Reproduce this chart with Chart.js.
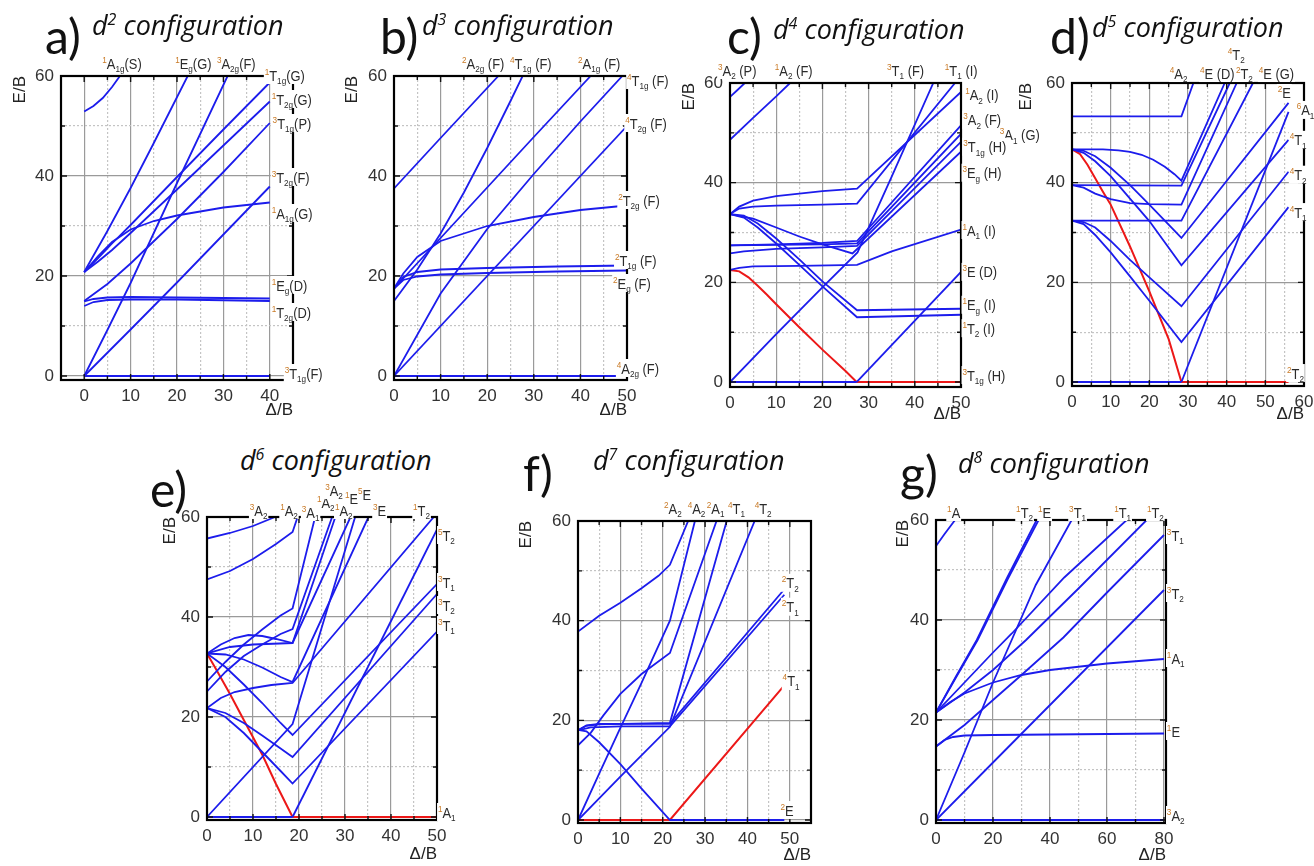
<!DOCTYPE html>
<html><head><meta charset="utf-8">
<script src="https://cdn.jsdelivr.net/npm/chart.js@4.4.1/dist/chart.umd.min.js"></script>
<style>
html,body{margin:0;padding:0;background:#fff}
body{width:1314px;height:866px;position:relative;overflow:hidden;font-family:"Liberation Sans",Arial,sans-serif}
canvas{position:absolute}
.ttl{position:absolute;white-space:nowrap;color:#111;line-height:1}
.let{font-size:48px;font-family:Lato,"Open Sans",sans-serif}
.cfg{font-size:27px;font-style:italic;font-family:"Open Sans",sans-serif}
.cfg sup{font-size:16px;vertical-align:10px;line-height:0}
</style>
</head><body>
<script>
// ================= DATA =================
// d2 (panel a)
const d2Blue = [
 [[0,0],[40,0]],
 [[0,52.9],[2,54],[4,55.6],[6,57.8],[7.7,60]],
 [[0,20.8],[5,29],[10,37.6],[15,46.6],[22.3,60]],
 [[0,0],[5,9.2],[10,18.6],[20,38.6],[30.9,60]],
 [[0,0],[10,9.3],[20,18.7],[30,28.3],[40,37.9]],
 [[0,20.8],[3,23.6],[6,26.5],[10,30.2],[20,39.8],[30,49.3],[40,58.7]],
 [[0,20.8],[3,22.9],[6,25.2],[10,28.6],[20,37.3],[30,46.1],[40,54.9]],
 [[0,15],[5,18.4],[10,22.5],[20,31.4],[30,40.8],[40,50.6]],
 [[0,20.8],[3,24],[6,26.8],[10,29.3],[15,31],[20,32.1],[30,33.7],[40,34.7]],
 [[0,14],[2,14.8],[5,15.2],[10,15.3],[20,15.3],[40,15.0]],
 [[0,14.9],[2,15.4],[5,15.7],[10,15.8],[20,15.7],[40,15.5]]
];
const d2Red = [];
const d2Labels = [
 ["^1A_1g(S)",3.9,62.6],["^1E_g(G)",19.6,62.6],["^3A_2g(F)",28.6,62.6],
 ["^1T_1g(G)",38.9,60.2],["^1T_2g(G)",40.4,55.4],["^3T_1g(P)",40.6,50.6],["^3T_2g(F)",40.4,39.8],
 ["^1A_1g(G)",40.4,32.6],["^1E_g(D)",40.4,18.2],["^1T_2g(D)",40.4,12.8],["^3T_1g(F)",43.2,0.6]
];
// d3 (panel b)
const d3Blue = [
 [[0,0],[50,0]],
 [[0,0],[50,50]],
 [[0,0],[10,16.5],[20,29.4],[30,40.4],[40,50.9],[49,60]],
 [[0,15],[5,21.3],[10,28.5],[15,36.7],[20,45.6],[25,55],[27.6,60]],
 [[0,37.5],[10,47.6],[22.4,60]],
 [[0,17.5],[10,27.6],[20,37.7],[30,47.8],[42.2,60]],
 [[0,17.5],[2,19.2],[5,19.9],[10,20.3],[20,20.6],[35,20.9],[50,21.1]],
 [[0,17.5],[2,19.8],[5,20.8],[10,21.3],[20,21.6],[35,21.9],[50,22.1]],
 [[0,17.5],[2,20.5],[5,23.8],[10,27],[20,30],[30,31.8],[40,33.2],[50,34.1]]
];
const d3Red = [];
const d3Labels = [
 ["^2A_2g (F)",14.6,62.6],["^4T_1g (F)",24.9,62.6],["^2A_1g (F)",39.5,62.6],
 ["^4T_1g (F)",50,59.2],["^4T_2g (F)",49.6,50.6],["^2T_2g (F)",48.1,35.2],
 ["^2T_1g (F)",47.4,23.2],["^2E_g (F)",47,18.6],["^4A_2g (F)",47.8,1.6]
];
// d4 (panel c)
const d4Blue = [
 [[0,0],[27.4,0]],
 [[27.4,0],[50,22.1]],
 [[0,0],[10,9.6],[20,19],[27.6,26],[35,41.2],[44,60]],
 [[0,57.2],[1.5,58.5],[3.2,60]],
 [[0,48.6],[5,53],[10,57.3],[13,60]],
 [[0,33.7],[2,35.2],[5,36.4],[10,37.3],[20,38.3],[27.5,38.8],[50,58.2]],
 [[0,33.7],[2,34.8],[5,35.2],[10,35.4],[20,35.6],[27.5,35.8],[48.7,60]],
 [[0,33.7],[3,33.4],[6,31.8],[10,28.8],[15,24.6],[20,20.2],[27.5,14.4],[50,14.7]],
 [[0,33.7],[3,33],[6,31],[10,27.8],[15,23.5],[20,19.2],[27.5,13.0],[50,13.5]],
 [[0,33.7],[5,32.8],[10,31],[15,29.2],[20,27.6],[26.5,25.8],[50,46.2]],
 [[0,27.4],[10,27.6],[20,27.9],[27.5,28.3],[50,51.5]],
 [[0,27.4],[10,27.5],[20,27.6],[27.5,27.8],[50,49.8]],
 [[0,25.8],[3,26.2],[10,26.7],[20,27],[27.5,27.3],[50,48.2]],
 [[0,22.5],[2,22.9],[5,23.2],[15,23.3],[27.5,23.5],[35,26.2],[50,30.6]]
];
const d4Red = [
 [[0,22.5],[2,22.2],[4,21],[6,19.3],[8,17.5],[10,15.6],[15,11],[20,6.5],[25,2.2],[27.4,0],[50,0]]
];
const d4Labels = [
 ["^3A_2 (P)",-2.6,62.6],["^1A_2 (F)",9.7,62.6],["^3T_1 (F)",34,62.6],["^1T_1 (I)",46.5,62.6],
 ["^1A_2 (I)",50.9,57.6],["^3A_2 (F)",50.5,52.6],["^3A_1 (G)",58.4,49.6],["^3T_1g (H)",50.5,47.2],
 ["^3E_g (H)",50.3,42],["^1A_1 (I)",50.3,30.5],["^3E (D)",50.3,22.1],["^1E_g (I)",50.3,15.5],
 ["^1T_2 (I)",50.3,10.8],["^3T_1g (H)",50.3,1.4]
];
// d5 (panel d)
const d5Blue = [
 [[0,0],[28.3,0]],
 [[28.3,0],[56,54.2]],
 [[0,53.3],[28.3,53.3],[31.4,60]],
 [[0,46.7],[8,46.7],[12,46.5],[15,46.2],[18,45.6],[21,44.6],[24,43.2],[26.5,41.7],[28.3,40.4],[39.5,60]],
 [[0,46.7],[3,46.4],[6,45.3],[10,43],[15,39.5],[20,35.6],[28.3,28.9],[56,56]],
 [[0,46.7],[3,46],[6,44.3],[10,41.3],[15,36.8],[20,32.3],[28.3,23.4],[56,48.6]],
 [[0,39.5],[28.3,39.4],[40.8,60]],
 [[0,39.5],[3,39],[6,37.8],[10,36.7],[15,35.9],[20,35.7],[28.3,35.6],[42.6,60]],
 [[0,32.4],[28.3,32.4],[46.8,60]],
 [[0,32.4],[3,32.1],[6,31],[10,28.3],[15,24.5],[20,21],[28.3,15.2],[56,42.2]],
 [[0,32.4],[3,31.7],[6,29.5],[10,26],[15,21.2],[20,16.3],[28.3,8],[56,35.1]]
];
const d5Red = [
 [[0,46.7],[2,45.8],[4,43.6],[6,40.9],[8,38.2],[10,35.6],[15,27.2],[20,18.2],[25,8.6],[28.3,0],[56,0]]
];
const d5Labels = [
 ["^4A_2",25.3,62],["^4E (D)",33.1,62],["^4T_2",40.3,65.8],["^2T_2",42.4,62],["^4E (G)",48.3,62],
 ["^2E",53.2,58],["^6A_1",58.1,54.6],["^4T_1",56.3,48.6],["^4T_2",56.3,41.6],["^4T_1",56.3,34.1],
 ["^2T_2",55.6,1.8]
];
// d6 (panel e)
const d6Blue = [
 [[0,55.7],[5,56.8],[10,58.2],[14.8,60]],
 [[0,47.5],[5,49.2],[10,51.6],[15,54.6],[18.6,57],[19.7,60]],
 [[0,27.1],[4,31],[8,34.5],[12,37.5],[16,40.3],[18.6,41.7],[23.5,60]],
 [[0,25.1],[4,29],[8,32.2],[12,34.5],[16,36.6],[18.6,37.6],[27.2,60]],
 [[0,32.7],[3,34.5],[6,35.8],[9,36.4],[12,36.2],[15,35.6],[18.6,34.8],[27.9,60]],
 [[0,32.7],[5,34],[10,34.5],[18.6,34.8],[31.2,60]],
 [[0,32.7],[4,32.5],[8,31.5],[12,29.9],[16,28],[18.6,27],[35.1,60]],
 [[0,0],[18.6,18.6],[32.2,60]],
 [[0,32.7],[4,30],[8,26.5],[12,22.8],[16,18.8],[18.6,16.4],[50,46.6]],
 [[0,21.8],[4,20.8],[8,18.8],[12,16.3],[16,13.7],[18.6,12],[50,44.6]],
 [[0,21.8],[4,20],[8,16.8],[12,13],[16,9.2],[18.6,6.7],[50,37.1]],
 [[0,21.8],[3,23.8],[6,25],[10,25.8],[14,26.4],[18.6,26.8],[49.3,60]],
 [[0,0],[18.6,0]],
 [[18.6,0],[50,57.5]]
];
const d6Red = [
 [[0,32.7],[2,29.5],[5,24.6],[8,19.4],[12,12.5],[15,6.6],[18.6,0],[50,0]]
];
const d6Labels = [
 ["^3A_2",9.3,61.4],["^1A_2",15.9,61.4],["^3A_1",20.6,61],["^1A_2",23.9,63],["^3A_2",25.7,65.4],
 ["^1A_2",27.8,61.4],["^1E",30,63.8],["^5E",32.8,64.6],["^3E",36.1,61.4],["^1T_2",44.8,61.4],
 ["^5T_2",50.2,56.4],["^3T_1",50.2,47],["^3T_2",50.2,42.4],["^3T_1",50.2,38.4],["^1A_1",50.2,1]
];
// d7 (panel f)
const d7Blue = [
 [[0,37.8],[5,41],[10,43.6],[15,46.5],[19,49],[21.7,51.2],[26,60]],
 [[0,0],[5,9.3],[10,18.5],[15,27.5],[21.7,40],[27.6,60]],
 [[0,15],[3,17.5],[6,21],[10,25.3],[15,29.3],[21.7,33.5],[32.7,60]],
 [[0,18],[2,18.9],[5,19.2],[21.7,19.5],[35.1,60]],
 [[0,18],[2,19],[5,19.3],[21.7,19.3],[48.7,46.3]],
 [[0,18],[3,18.6],[10,18.8],[21.7,18.8],[48.7,45.2]],
 [[0,0],[10,8.7],[21.7,18.7],[41.7,60]],
 [[0,18.1],[2,17.8],[5,15.6],[10,11.2],[15,6.3],[21.7,0],[48.7,0]]
];
const d7Red = [
 [[0,0],[21.7,0],[48.7,27]]
];
const d7Labels = [
 ["^2A_2",20.3,62.6],["^4A_2",25.9,62.6],["^2A_1",30.4,62.6],["^4T_1",35.4,62.6],["^4T_2",41.7,62.6],
 ["^2T_2",48.1,47.6],["^2T_1",48.1,42.8],["^4T_1",48.3,27.9],["^2E",47.8,2]
];
// d8 (panel g)
const d8Blue = [
 [[0,0],[80,0]],
 [[0,0],[20,11.5],[40,23],[60,34.5],[80,46]],
 [[0,0],[10,13.5],[20,27.5],[25.4,34.5],[35,47],[47.6,60]],
 [[0,14.7],[10,19],[20,24],[30,29],[44.7,36.5],[60,45.5],[80,57]],
 [[0,21.5],[10,25.5],[20,30],[31.6,36],[50,46.3],[73.9,60]],
 [[0,21.5],[10,27.5],[20,33.5],[26.6,37.3],[45,48.5],[66.9,60]],
 [[0,21.5],[7,28.7],[14.3,36],[25,48.5],[35.3,60]],
 [[0,21.5],[7,28.5],[14.6,36],[25,48],[36,60]],
 [[0,21.5],[5,23.6],[10,25.3],[20,27.5],[30,29],[40,30],[60,31.3],[80,32.2]],
 [[0,14.7],[3,16],[6,16.6],[10,16.9],[20,17],[40,17.1],[60,17.2],[80,17.3]],
 [[0,54.8],[3,57.2],[6.7,60]]
];
const d8Red = [];
const d8Labels = [
 ["^1A",3.9,61.6],["^1T_2",28.1,61.6],["^1E",35.8,61.6],["^3T_1",46.7,61.6],["^1T_1",62.5,61.6],["^1T_2",74,61.6],
 ["^3T_1",81,57],["^3T_2",81,45.4],["^1A_1",81,32.4],["^1E",81,17.8],["^3A_2",81,1]
];
// tick values
const xTicksA = [-5,0,5,10,15,20,25,30,35,40,45];
const xTicks50 = [0,5,10,15,20,25,30,35,40,45,50];
const xTicks55 = [0,5,10,15,20,25,30,35,40,45,50,55];
const xTicks60 = [0,5,10,15,20,25,30,35,40,45,50,55,60];
const xTicks80 = [0,10,20,30,40,50,60,70,80];
const yTicks = [0,10,20,30,40,50,60];

// ================= LAYOUT / STYLE =================
const BLUE = 'rgb(28,28,236)', RED = 'rgb(236,24,24)';
const TXT = '#2b2b2b', SUPC = '#c97a26';
const panels = [
 {cv:[10,40,320,381],  area:[61,76,293,380],   x:[-5,45],  y:[-0.8,60], xt:xTicksA, xMaj:10, blue:d2Blue, red:d2Red, labels:d2Labels},
 {cv:[342,40,338,381], area:[394,76,627,380],  x:[0,50],   y:[-0.8,60], xt:xTicks50, xMaj:10, blue:d3Blue, red:d3Red, labels:d3Labels},
 {cv:[679,40,366,385], area:[730,83,961,387],  x:[0,50],   y:[-1,60],   xt:xTicks50, xMaj:10, blue:d4Blue, red:d4Red, labels:d4Labels},
 {cv:[1016,40,298,385],area:[1072,83,1304,386],x:[0,60],   y:[-0.8,60], xt:xTicks60, xMaj:10, blue:d5Blue, red:d5Red, labels:d5Labels},
 {cv:[160,480,310,385],area:[207,517,437,820], x:[0,50],   y:[-0.6,60], xt:xTicks50, xMaj:10, blue:d6Blue, red:d6Red, labels:d6Labels},
 {cv:[516,480,314,386],area:[578,521,811,823], x:[0,55],   y:[-0.6,60], xt:xTicks55, xMaj:10, blue:d7Blue, red:d7Red, labels:d7Labels},
 {cv:[893,480,307,386],area:[936,520,1166,823],x:[0,80.7], y:[-0.6,60], xt:xTicks80, xMaj:20, blue:d8Blue, red:d8Red, labels:d8Labels}
];
const titles = [
 ['a)',45,55,'2',92,35],['b)',380,55,'3',422,35],['c)',727,55,'4',773,39],['d)',1050,55,'5',1092,37],
 ['e)',150,508,'6',240,470],['f)',523,492,'7',593,470],['g)',900,492,'8',958,473]
];

function parseLabel(s){
  const parts=[]; let i=0, buf='';
  const flush=()=>{ if(buf){ parts.push({t:buf,k:'n'}); buf=''; } };
  while(i<s.length){
    const ch=s[i];
    if(ch==='^'){ flush(); parts.push({t:s[i+1],k:'sup'}); i+=2; }
    else if(ch==='_'){ flush(); let j=i+1, sb=''; while(j<s.length && /[0-9a-z]/.test(s[j])){ sb+=s[j]; j++; } parts.push({t:sb,k:'sub'}); i=j; }
    else { buf+=ch; i++; }
  }
  flush(); return parts;
}
const LF = {n:'15px "Liberation Sans", Arial, sans-serif', sup:'9.5px "Liberation Sans", Arial, sans-serif', sub:'9.5px "Liberation Sans", Arial, sans-serif'};
const LSX = 0.86; // horizontal condensing of annotation text
function drawLabel(ctx, s, x, y){
  const parts=parseLabel(s); let w=0;
  parts.forEach(p=>{ ctx.font=LF[p.k]; p.w=ctx.measureText(p.t).width; w+=p.w; });
  ctx.save();
  ctx.translate(x, y); ctx.scale(LSX, 1);
  ctx.fillStyle='#fff'; ctx.fillRect(-1, -9, w+2, 18);
  ctx.textAlign='left'; ctx.textBaseline='alphabetic';
  let cx=0; const base=5.5;
  parts.forEach(p=>{
    ctx.font=LF[p.k]; ctx.fillStyle = p.k==='sup' ? SUPC : TXT;
    const dy = p.k==='sup' ? -6 : (p.k==='sub' ? 3.5 : 0);
    ctx.fillText(p.t, cx, base+dy); cx+=p.w;
  });
  ctx.restore();
}

const framePlugin = {
  id:'frame',
  afterDatasetsDraw(chart, args, o){
    const {ctx, chartArea:{left,right,top,bottom}, scales:{x,y}} = chart;
    ctx.save();
    ctx.strokeStyle='#111'; ctx.lineWidth=1.4;
    x.ticks.forEach(t=>{
      const px=x.getPixelForValue(t.value); if(px<=left+1||px>=right-1) return;
      const len = (t.value % o.xMaj===0) ? 6 : 4;
      ctx.beginPath(); ctx.moveTo(px,top); ctx.lineTo(px,top+len); ctx.moveTo(px,bottom); ctx.lineTo(px,bottom-len); ctx.stroke();
    });
    y.ticks.forEach(t=>{
      const py=y.getPixelForValue(t.value); if(py<=top+1||py>=bottom-1) return;
      const len = (t.value % 20===0) ? 6 : 4;
      ctx.beginPath(); ctx.moveTo(left,py); ctx.lineTo(left+len,py); ctx.moveTo(right,py); ctx.lineTo(right-len,py); ctx.stroke();
    });
    ctx.lineWidth=2.2; ctx.strokeStyle='#000';
    ctx.strokeRect(left, top, right-left, bottom-top);
    o.labels.forEach(([s,lx,ly])=>drawLabel(ctx, s, x.getPixelForValue(lx), y.getPixelForValue(ly)));
    ctx.restore();
  }
};

function makeDs(curves, color, width){
  return curves.map(c=>({data:c.map(([x,y])=>({x,y})), borderColor:color, backgroundColor:color, borderWidth:width, pointRadius:0, pointHoverRadius:0, showLine:true, tension:0, fill:false}));
}

panels.forEach(p=>{
  const [cl,ct,cw,ch] = p.cv; const [al,at,ar,ab] = p.area;
  const cv=document.createElement('canvas');
  cv.width=cw; cv.height=ch; cv.style.left=cl+'px'; cv.style.top=ct+'px'; cv.style.width=cw+'px'; cv.style.height=ch+'px';
  document.body.appendChild(cv);
  const yW = al-cl, xH = (ct+ch)-ab;
  const gridColor = maj => c => (c.tick && c.tick.value % maj === 0) ? '#9a9a9a' : '#c4c4c4';
  const gridDash = maj => c => (c.tick && c.tick.value % maj !== 0) ? [2,2] : [];
  new Chart(cv, {
    type:'scatter',
    data:{datasets:[...makeDs(p.blue, BLUE, 1.8), ...makeDs(p.red, RED, 2)]},
    options:{
      responsive:false, animation:false, devicePixelRatio:1,
      events:[],
      layout:{padding:{left:0, top:at-ct, right:(cl+cw)-ar, bottom:0}},
      plugins:{legend:{display:false}, tooltip:{enabled:false}, frame:{labels:p.labels, xMaj:p.xMaj}},
      scales:{
        x:{type:'linear', min:p.x[0], max:p.x[1],
           afterBuildTicks:s=>{ s.ticks = p.xt.map(v=>({value:v})); },
           afterFit:s=>{ s.height = xH; s.paddingLeft=0; s.paddingRight=0; },
           ticks:{autoSkip:false, maxRotation:0, padding:6, color:'#333', font:{family:'"Liberation Sans", Arial, sans-serif', size:17},
                  callback:v=> (v % p.xMaj===0 && v>=0) ? String(v) : ''},
           grid:{color:gridColor(p.xMaj), lineWidth:1.2, drawTicks:false, borderDash:gridDash(p.xMaj)},
           border:{display:false, dash:gridDash(p.xMaj)},
           title:{display:true, text:'Δ/B', align:'end', color:'#222', padding:0, font:{family:'"Liberation Sans", Arial, sans-serif', size:17}}
        },
        y:{type:'linear', min:p.y[0], max:p.y[1],
           afterBuildTicks:s=>{ s.ticks = yTicks.map(v=>({value:v})); },
           afterFit:s=>{ s.width = yW; s.paddingTop=0; s.paddingBottom=0; },
           ticks:{autoSkip:false, padding:7, color:'#333', font:{family:'"Liberation Sans", Arial, sans-serif', size:17},
                  callback:v=> (v % 20===0) ? String(v) : ''},
           grid:{color:gridColor(20), lineWidth:1.2, drawTicks:false, borderDash:gridDash(20)},
           border:{display:false, dash:gridDash(20)},
           title:{display:true, text:'E/B', align:'end', color:'#222', padding:0, font:{family:'"Liberation Sans", Arial, sans-serif', size:17}}
        }
      }
    },
    plugins:[framePlugin]
  });
});

// titles as HTML text
titles.forEach(([lt,lx,lb,n,cx,cb])=>{
  const a=document.createElement('div'); a.className='ttl let'; a.textContent=lt;
  a.style.left=lx+'px'; a.style.top=(lb-0.887*48)+'px'; document.body.appendChild(a);
  const b=document.createElement('div'); b.className='ttl cfg'; b.innerHTML='d<sup>'+n+'</sup> configuration';
  b.style.left=cx+'px'; b.style.top=(cb-0.888*27)+'px'; document.body.appendChild(b);
});
</script>
</body></html>
